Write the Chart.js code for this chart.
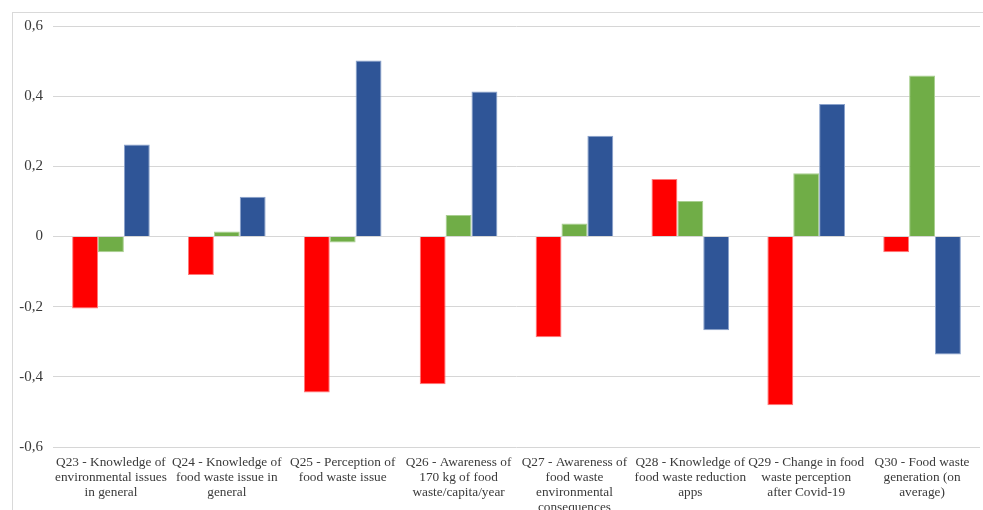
<!DOCTYPE html>
<html>
<head>
<meta charset="utf-8">
<script src="https://cdn.jsdelivr.net/npm/chart.js@4.4.1/dist/chart.umd.min.js"></script>
<style>
  html, body { margin: 0; padding: 0; background: #fff; overflow: hidden; }
  #wrap { position: relative; width: 983px; height: 510px; }
  #frame {
    position: absolute; left: 12px; top: 12px;
    width: 1000px; height: 600px;
    border: 1px solid #d9d9d9; box-sizing: border-box;
  }
  #chartBox { position: absolute; left: 0; top: 0; width: 983px; height: 510px; }
</style>
</head>
<body>
<div id="wrap">
  <div id="frame"></div>
  <div id="chartBox"><canvas id="chart"></canvas></div>
</div>
<script>
const categories = [
  ["Q23 - Knowledge of", "environmental issues", "in general"],
  ["Q24 - Knowledge of", "food waste issue in", "general"],
  ["Q25 - Perception of", "food waste issue"],
  ["Q26 - Awareness of", "170 kg of food", "waste/capita/year"],
  ["Q27 - Awareness of", "food waste", "environmental", "consequences"],
  ["Q28 - Knowledge of", "food waste reduction", "apps"],
  ["Q29 - Change in food", "waste perception", "after Covid-19"],
  ["Q30 - Food waste", "generation (on", "average)"]
];

const redValues = [-0.205, -0.11, -0.445, -0.421, -0.287, 0.164, -0.481, -0.045];
const greenValues = [-0.045, 0.014, -0.017, 0.061, 0.037, 0.101, 0.180, 0.459];
const blueValues = [0.262, 0.113, 0.502, 0.413, 0.287, -0.267, 0.378, -0.336];

const yMin = -0.6;
const yMax = 0.6;
const yStep = 0.2;

function formatTick(value) {
  const v = Math.round(value * 10) / 10;
  return String(v).replace(".", ",");
}

function makeDataset(label, data, color, edge) {
  return {
    label,
    data,
    backgroundColor: color,
    borderColor: edge,
    borderWidth: 1,
    barPercentage: 1.0,
    categoryPercentage: 0.67
  };
}

new Chart(document.getElementById("chart"), {
  type: "bar",
  data: {
    labels: categories,
    datasets: [
      makeDataset("Series 1", redValues, "#ff0000", "#ff7a7a"),
      makeDataset("Series 2", greenValues, "#70ad47", "#a9cf90"),
      makeDataset("Series 3", blueValues, "#2f5597", "#8aa2cc")
    ]
  },
  options: {
    responsive: true,
    maintainAspectRatio: false,
    animation: false,
    layout: {
      padding: { left: 0, right: 3, top: 26, bottom: 0 }
    },
    scales: {
      y: {
        min: yMin,
        max: yMax,
        border: { display: false },
        grid: {
          color: "#d6d6d6",
          lineWidth: 1,
          drawTicks: false
        },
        ticks: {
          stepSize: yStep,
          padding: 10,
          color: "#3a3a3a",
          font: { family: "Liberation Serif", size: 15 },
          callback: formatTick
        },
        afterFit: scale => { scale.width = 53; }
      },
      x: {
        border: { display: false },
        grid: { display: false, drawTicks: false },
        ticks: {
          padding: 8,
          maxRotation: 0,
          autoSkip: false,
          color: "#3a3a3a",
          font: { family: "Liberation Serif", size: 13.3, lineHeight: 1.13 }
        },
        afterFit: scale => { scale.height = 63; }
      }
    },
    plugins: {
      legend: { display: false },
      tooltip: { enabled: false }
    }
  }
});
</script>
</body>
</html>
